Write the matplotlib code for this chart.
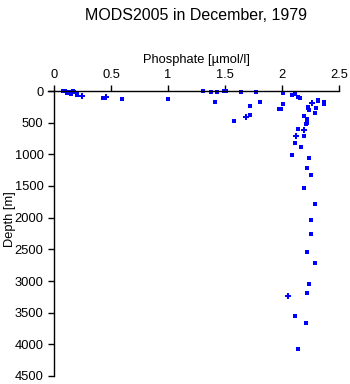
import matplotlib
matplotlib.use("Agg")
import matplotlib.pyplot as plt

plt.rcParams['font.family'] = ['Liberation Sans', 'DejaVu Sans']

# Phosphate [umol/l] and depth [m] of the bottle samples
phosphate = [0.076, 0.10, 0.115, 0.135, 0.15, 0.17, 0.175, 0.20, 0.205,
             0.43, 0.60, 1.00,
             1.31, 1.38, 1.43, 1.49, 1.51, 1.64, 1.77, 1.415, 1.72, 1.81,
             1.58, 1.72,
             2.01, 2.01, 1.97, 1.99, 2.09, 2.11, 2.14, 2.16, 2.32, 2.32,
             2.37, 2.37, 2.225, 2.23, 2.24, 2.30, 2.29, 2.19, 2.22, 2.22,
             2.21, 2.14, 2.19, 2.11, 2.17, 2.09, 2.24, 2.22, 2.25, 2.19,
             2.29, 2.25, 2.25, 2.22, 2.29, 2.24, 2.22, 2.11, 2.21, 2.14]
depth = [5, 0, 25, 10, 47, 0, 20, 36, 63,
         115, 130, 130,
         0, 10, 20, 0, 0, 15, 10, 170, 230, 180,
         475, 385,
         36, 210, 285, 285, 68, 52, 90, 115, 135, 150,
         180, 210, 272, 257, 305, 263, 350, 400, 440, 510,
         525, 605, 710, 815, 890, 1016, 1063, 1221, 1332, 1537,
         1790, 2043, 2259, 2548, 2722, 3054, 3196, 3559, 3670, 4071]

# Samples flagged with a cross symbol
phosphate_flag = [0.245, 0.455, 1.68, 2.265, 2.19, 2.12, 2.05]
depth_flag = [85, 100, 405, 195, 620, 715, 3243]

x_ticks = [0, 0.5, 1, 1.5, 2, 2.5]
x_tick_labels = ['0', '0.5', '1', '1.5', '2', '2.5']
y_ticks = [0, 500, 1000, 1500, 2000, 2500, 3000, 3500, 4000, 4500]

fig = plt.figure(figsize=(3.5, 3.84), dpi=100)
ax = fig.add_axes([54 / 350, 1 - 376 / 384, 285 / 350, 285 / 384])

ax.plot(phosphate, depth, linestyle='none', marker='s', markersize=2.5,
        markeredgewidth=0, color='#0000ff', clip_on=False)
ax.plot(phosphate_flag, depth_flag, linestyle='none', marker='P', markersize=4.2,
        markeredgewidth=0, color='#0000ff', clip_on=False)

ax.set_xlim(0, 2.5)
ax.set_ylim(4500, 0)

ax.xaxis.set_ticks_position('top')
ax.xaxis.set_label_position('top')
ax.set_xticks(x_ticks)
ax.set_xticklabels(x_tick_labels)
ax.set_yticks(y_ticks)

for side in ('right', 'bottom'):
    ax.spines[side].set_visible(False)
for side in ('left', 'top'):
    ax.spines[side].set_linewidth(1.0)
    ax.spines[side].set_color('black')
ax.spines['top'].set_bounds(-0.05, 2.5)

ax.tick_params(axis='both', direction='out', length=4.5, width=1.0,
               labelsize=9.3, pad=3, colors='black')

ax.set_xlabel('Phosphate [µmol/l]', fontsize=9.3, labelpad=4)
ax.set_ylabel('Depth [m]', fontsize=9.3, labelpad=3)
ax.yaxis.set_label_coords(-0.135, 0.55)

fig.text(196 / 350, 1 - 16 / 384, 'MODS2005 in December, 1979',
         ha='center', va='center', fontsize=11.5)

fig.savefig('out.png', dpi=100)
